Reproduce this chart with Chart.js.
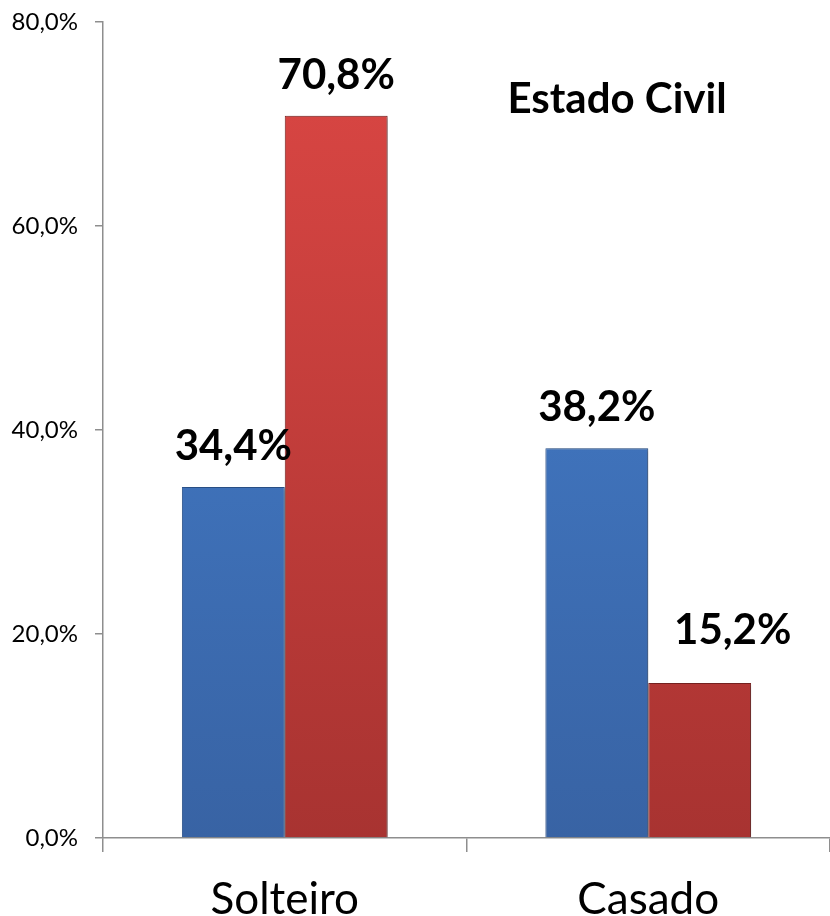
<!DOCTYPE html>
<html>
<head>
<meta charset="utf-8">
<script src="https://cdn.jsdelivr.net/npm/chart.js@4/dist/chart.umd.min.js"></script>
<style>
    html, body { margin: 0; padding: 0; background: #fff; }
    #wrap { width: 830px; height: 916px; }
</style>
</head>
<body>
<div id="wrap"><canvas id="estadoCivilChart" width="830" height="916"></canvas></div>
<script>
// chart data
const categories = ['Solteiro', 'Casado'];
const serieAzul = [34.4, 38.2];
const serieVermelha = [70.8, 15.2];
const yTicks = [0, 20, 40, 60, 80];
const chartTitle = 'Estado Civil';

const FONT = 'Lato, "Open Sans", sans-serif';

function fmtPct(v) {
    return v.toFixed(1).replace('.', ',') + '%';
}

// vertical gradient for the bevelled bars
function barGradient(ctx, top, bottom) {
    return function(context) {
        const area = context.chart.chartArea;
        if (!area) return bottom;
        const g = context.chart.ctx.createLinearGradient(0, area.top, 0, area.bottom);
        g.addColorStop(0, top);
        g.addColorStop(1, bottom);
        return g;
    };
}

const valueLabels = {
    id: 'valueLabels',
    afterDatasetsDraw(chart, args, opts) {
        const ctx = chart.ctx;
        ctx.save();
        ctx.font = 'bold 42px ' + FONT;
        ctx.fillStyle = '#000';
        ctx.textAlign = 'center';
        ctx.textBaseline = 'alphabetic';
        chart.data.datasets.forEach((ds, di) => {
            chart.getDatasetMeta(di).data.forEach((bar, i) => {
                const nudge = (opts.nudge && opts.nudge[di + '-' + i]) || [0, 0];
                ctx.fillText(fmtPct(ds.data[i]), bar.x + nudge[0], bar.y - 27 + nudge[1]);
            });
        });
        // title inside the plot
        ctx.font = 'bold 42px ' + FONT;
        ctx.fillText(chartTitle, opts.titleX, opts.titleY);
        ctx.restore();
    }
};

const barShadow = {
    id: 'barShadow',
    beforeDatasetDraw(chart) {
        const ctx = chart.ctx;
        ctx.save();
        ctx.shadowColor = 'rgba(0,0,0,0.35)';
        ctx.shadowBlur = 4;
        ctx.shadowOffsetX = 2;
        ctx.shadowOffsetY = 1;
    },
    afterDatasetDraw(chart) {
        chart.ctx.restore();
    }
};

const ctx = document.getElementById('estadoCivilChart').getContext('2d');
new Chart(ctx, {
    type: 'bar',
    data: {
        labels: categories,
        datasets: [{
            data: serieAzul,
            backgroundColor: barGradient(ctx, '#4682d2', '#3863a4'),
            borderColor: '#2c5590',
            borderWidth: 1
        }, {
            data: serieVermelha,
            backgroundColor: barGradient(ctx, '#dc4744', '#a83331'),
            borderColor: '#7e2422',
            borderWidth: 1
        }]
    },
    options: {
        responsive: false,
        animation: false,
        layout: { padding: { top: 0, right: -2, left: 0, bottom: 0 } },
        datasets: {
            bar: { categoryPercentage: 0.566, barPercentage: 1.0 }
        },
        scales: {
            x: {
                offset: true,
                grid: {
                    offset: true,
                    drawOnChartArea: false,
                    drawTicks: true,
                    tickLength: 14,
                    color: '#8e8e8e',
                    lineWidth: 1.5
                },
                border: { color: '#8e8e8e', width: 1.5 },
                ticks: {
                    color: '#000',
                    padding: 21,
                    font: { family: FONT, size: 44 }
                },
                afterFit(scale) { scale.height = 78; }
            },
            y: {
                min: 0,
                max: 80,
                afterBuildTicks(scale) {
                    scale.ticks = yTicks.map(v => ({ value: v }));
                },
                grid: {
                    drawOnChartArea: false,
                    drawTicks: true,
                    tickLength: 8,
                    color: '#8e8e8e',
                    lineWidth: 1.5
                },
                border: { color: '#8e8e8e', width: 1.5 },
                ticks: {
                    color: '#000',
                    padding: 17,
                    font: { family: FONT, size: 24 },
                    callback: value => fmtPct(value)
                },
                afterFit(scale) {
                    scale.width = 103;
                    scale.paddingTop = 22;
                    scale.paddingBottom = 0;
                }
            }
        },
        plugins: {
            legend: { display: false },
            tooltip: { enabled: false },
            valueLabels: {
                titleX: 617,
                titleY: 113,
                nudge: { '1-1': [33, -12] }
            }
        }
    },
    plugins: [barShadow, valueLabels]
});
</script>
</body>
</html>
